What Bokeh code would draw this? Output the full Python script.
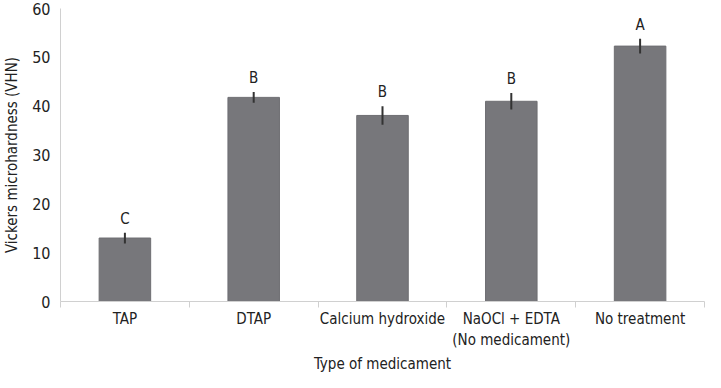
from bokeh.plotting import figure
from bokeh.models import ColumnDataSource, FixedTicker, Range1d, Title
from bokeh.embed import file_html
from bokeh.resources import INLINE

categories = ["TAP", "DTAP", "Calcium hydroxide", "NaOCl + EDTA\n(No medicament)", "No treatment"]
means = [13.0, 41.8, 38.1, 41.0, 52.3]
errors = [1.1, 1.1, 1.9, 1.7, 1.5]
letters = ["C", "B", "B", "B", "A"]
y_ticks = [0, 10, 20, 30, 40, 50, 60]
x_title = "Type of medicament"
y_title = "Vickers microhardness (VHN)"

FONT = "'DejaVu Sans Condensed', Roboto, sans-serif"
xpos = [i + 0.5 for i in range(len(categories))]
src = ColumnDataSource(dict(
    x=xpos, top=means,
    lower=[m - e for m, e in zip(means, errors)],
    upper=[m + e for m, e in zip(means, errors)],
    ly=[m + e + 1.0 for m, e in zip(means, errors)],
    letter=letters,
))

p = figure(width=705, height=372, output_backend="svg", toolbar_location=None,
           x_range=Range1d(0, len(categories)), y_range=Range1d(0, 60),
           min_border_left=55, min_border_right=1, min_border_top=8, min_border_bottom=0)
p.outline_line_color = None
p.grid.visible = False

p.vbar(x="x", top="top", width=0.4, bottom=0, source=src,
       fill_color="#77777b", line_color="#6e6e72", line_width=1)
p.segment(x0="x", x1="x", y0="lower", y1="upper", source=src,
          line_color="#333333", line_width=2)
p.text(x="x", y="ly", text="letter", source=src, text_align="center",
       text_baseline="bottom", text_font_size="15px", text_color="#222222",
       text_font={"value": FONT})

xa = p.xaxis[0]
xa.ticker = FixedTicker(ticks=xpos, minor_ticks=list(range(len(categories) + 1)))
xa.major_label_overrides = {x: c for x, c in zip(xpos, categories)}
xa.major_tick_line_color = None
xa.major_tick_out = 0
xa.minor_tick_out = 6
xa.minor_tick_in = 0
xa.minor_tick_line_color = "#d0d0d0"
xa.axis_line_color = "#d0d0d0"
xa.major_label_text_font = FONT
xa.major_label_text_font_size = "15px"
xa.major_label_text_color = "#222222"
xa.major_label_standoff = 2

p.add_layout(Title(text=x_title, align="center", text_font=FONT, text_font_size="15px",
                   text_font_style="normal", text_color="#222222", standoff=0, offset=0), "below")

ya = p.yaxis[0]
ya.ticker = FixedTicker(ticks=y_ticks)
ya.major_tick_line_color = None
ya.major_tick_out = 0
ya.minor_tick_line_color = None
ya.axis_line_color = "#d0d0d0"
ya.major_label_text_font = FONT
ya.major_label_text_font_size = "16px"
ya.major_label_text_color = "#222222"
ya.major_label_standoff = 10
ya.axis_label = y_title
ya.axis_label_text_font = FONT
ya.axis_label_text_font_style = "normal"
ya.axis_label_text_font_size = "15px"
ya.axis_label_text_color = "#222222"
ya.axis_label_standoff = 8

open("out.html", "w").write(file_html(p, INLINE))
